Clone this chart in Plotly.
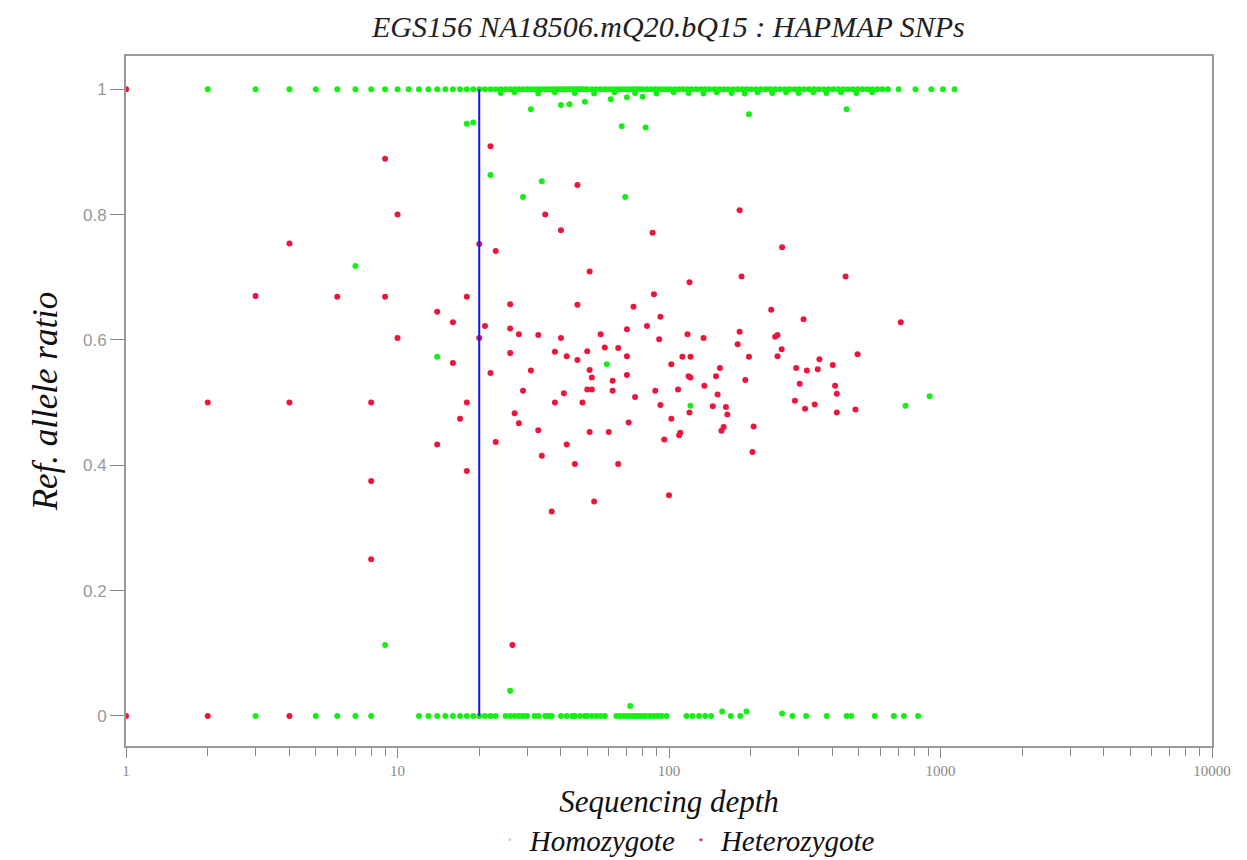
import plotly.graph_objects as go

# ---------------- data ----------------
title_text = "EGS156 NA18506.mQ20.bQ15 : HAPMAP SNPs"
x_title = "Sequencing depth"
y_title = "Ref. allele ratio"
depth_cutoff = 20

# Homozygote SNPs: ratio 1 band
hom_top_depth = [1, 2, 3, 4, 5, 6, 7, 8, 9, 10, 11, 12, 13, 14, 15, 16, 17, 18, 19,
                 20, 21, 22, 23, 24, 25, 26, 27, 28, 29, 30, 31, 32, 33, 34, 35, 36, 37, 38, 39,
                 40, 41, 42, 43, 44, 45, 46, 47, 48, 49, 50, 52, 54, 56, 58, 60, 62, 64, 66, 68,
                 70, 72, 74, 76, 78, 80, 83, 86, 89, 92, 95, 98, 101, 105, 109, 113, 117, 121,
                 126, 131, 136, 141, 147, 153, 159, 165, 172, 179, 186, 193, 201, 209, 218, 227,
                 236, 246, 256, 267, 278, 290, 302, 315, 328, 342, 356, 371, 387, 403, 420, 438,
                 456, 475, 495, 516, 538, 561, 585, 610, 640, 701, 809, 925, 1021, 1127]
hom_top_ratio = [1.0] * len(hom_top_depth)

# Homozygote SNPs slightly below 1 (thickening the top band)
hom_band_depth = [24, 27, 33, 38, 45, 53, 63, 75, 90, 104, 118, 134, 150, 170, 190, 212,
                  240, 270, 300, 340, 380, 430, 490, 560]
hom_band_ratio = [0.994, 0.995, 0.993, 0.995, 0.994, 0.993, 0.995, 0.994, 0.993, 0.995,
                  0.994, 0.993, 0.995, 0.994, 0.993, 0.995, 0.994, 0.995, 0.994, 0.995,
                  0.994, 0.995, 0.994, 0.995]

# Homozygote SNPs: ratio 0 band
hom_bot_depth = [3, 5, 6, 7, 8, 12, 13, 14, 15, 16, 17, 18, 19, 20, 21, 22, 23, 25, 26, 27,
                 28, 29, 30, 32, 33, 35, 36, 37, 40, 42, 44, 45, 47, 49, 50, 52, 54, 56, 58,
                 64, 66, 68, 70, 72, 74, 76, 78, 80, 82, 85, 88, 91, 94, 98, 116, 122, 129,
                 136, 143, 169, 183, 285, 320, 381, 451, 469, 573, 673, 733, 827]
hom_bot_ratio = [0.0] * len(hom_bot_depth)

# Homozygote SNPs off the bands
hom_mid_depth = [7, 14, 59, 743, 912, 120, 9, 26, 18, 19, 22, 31, 34, 29, 40, 43, 49, 61,
                 70, 80, 67, 82, 197, 451, 69, 72, 157, 193, 261]
hom_mid_ratio = [0.718, 0.573, 0.561, 0.495, 0.51, 0.495, 0.113, 0.04, 0.945, 0.947, 0.863,
                 0.968, 0.853, 0.828, 0.975, 0.976, 0.98, 0.984, 0.987, 0.988, 0.941, 0.939,
                 0.96, 0.968, 0.828, 0.016, 0.007, 0.007, 0.004]

# Heterozygote SNPs
het_depth = [1, 2, 4, 1, 2, 4, 8, 8, 8, 26.5, 9, 10, 4, 3, 6, 9, 10, 18, 14, 16, 20, 16, 18,
             17, 14, 18, 22, 20, 23, 35, 46, 40, 87, 182, 261,
             51, 26, 46, 74, 21, 26, 28, 33, 40, 56, 70, 83, 26, 38, 42, 46, 50, 58, 65, 70,
             22, 31, 51, 52, 62, 70, 62, 29, 41, 50, 52, 75, 38, 48, 27, 28, 33, 51, 60, 71,
             42, 23, 34, 45, 65, 53, 37,
             119, 185, 447, 88, 93, 92, 117, 134, 238, 313, 714, 182, 246, 251, 179, 260, 251,
             197, 112, 120, 102, 154, 118, 120, 149, 191, 294, 322, 353, 358, 401, 495, 303,
             409, 415, 135, 108, 89, 151, 291, 344, 317, 415, 486, 93, 119, 145, 162, 164, 102,
             205, 159, 156, 110, 109, 96, 203, 100]
het_ratio = [0.0, 0.0, 0.0, 1.0, 0.5, 0.5, 0.5, 0.375, 0.25, 0.113, 0.889, 0.80, 0.754, 0.67,
             0.669, 0.669, 0.603, 0.669, 0.645, 0.628, 0.603, 0.563, 0.5, 0.474, 0.433, 0.391,
             0.909, 0.753, 0.742, 0.80, 0.847, 0.775, 0.771, 0.807, 0.748,
             0.709, 0.657, 0.656, 0.653, 0.622, 0.618, 0.609, 0.608, 0.603, 0.609, 0.617, 0.622,
             0.579, 0.581, 0.574, 0.568, 0.582, 0.588, 0.587, 0.574, 0.547, 0.551, 0.552, 0.540,
             0.535, 0.544, 0.519, 0.519, 0.515, 0.521, 0.521, 0.509, 0.5, 0.5, 0.483, 0.467,
             0.456, 0.453, 0.453, 0.468, 0.433, 0.437, 0.415, 0.402, 0.402, 0.342, 0.326,
             0.692, 0.701, 0.701, 0.673, 0.637, 0.601, 0.609, 0.603, 0.648, 0.633, 0.628, 0.613,
             0.605, 0.608, 0.593, 0.585, 0.574, 0.573, 0.573, 0.573, 0.561, 0.555, 0.542, 0.540,
             0.542, 0.536, 0.555, 0.551, 0.553, 0.569, 0.560, 0.577, 0.530, 0.527, 0.514, 0.527,
             0.521, 0.519, 0.513, 0.503, 0.497, 0.490, 0.484, 0.489, 0.496, 0.484, 0.494, 0.493,
             0.481, 0.474, 0.462, 0.461, 0.455, 0.452, 0.448, 0.441, 0.421, 0.352]

x_tick_vals = [1, 10, 100, 1000, 10000]
x_tick_text = ["1", "10", "100", "1000", "10000"]
y_tick_vals = [0, 0.2, 0.4, 0.6, 0.8, 1]
y_tick_text = ["0", "0.2", "0.4", "0.6", "0.8", "1"]

GREEN = "rgb(20,240,20)"
RED = "rgb(240,20,60)"
SERIF = "Liberation Serif"

fig = go.Figure()

hom_x = hom_top_depth + hom_band_depth + hom_bot_depth + hom_mid_depth
hom_y = hom_top_ratio + hom_band_ratio + hom_bot_ratio + hom_mid_ratio
fig.add_trace(go.Scatter(x=hom_x, y=hom_y, mode="markers", showlegend=False,
                         marker=dict(color=GREEN, size=6, symbol="circle", line=dict(width=0)),
                         hoverinfo="x+y"))
fig.add_trace(go.Scatter(x=het_depth, y=het_ratio, mode="markers", showlegend=False,
                         marker=dict(color=RED, size=6, symbol="circle", line=dict(width=0)),
                         hoverinfo="x+y"))
fig.add_trace(go.Scatter(x=[depth_cutoff, depth_cutoff], y=[0, 1], mode="lines",
                         line=dict(color="rgb(20,20,255)", width=2), showlegend=False,
                         hoverinfo="skip"))

# legend entries
fig.add_trace(go.Scatter(x=[None], y=[None], mode="markers", name="<i>Homozygote</i>",
                         marker=dict(color="rgb(170,235,170)", size=3)))
fig.add_trace(go.Scatter(x=[None], y=[None], mode="markers", name="<i>Heterozygote</i>",
                         marker=dict(color=RED, size=3)))

fig.update_layout(
    width=1247, height=860,
    margin=dict(l=126, r=35, t=56, b=114, autoexpand=False),
    paper_bgcolor="white", plot_bgcolor="white",
    title=dict(text="<i>" + title_text + "</i>", x=0.536, xanchor="center", y=0.969,
               yanchor="middle", font=dict(family=SERIF, size=30, color="#222")),
    legend=dict(orientation="h", x=0.515, xanchor="center", y=-0.136, yanchor="middle",
                font=dict(family=SERIF, size=29, color="#111"), itemwidth=30,
                bgcolor="rgba(0,0,0,0)"),
    showlegend=True,
)

fig.update_xaxes(type="log", range=[0, 4], tickvals=x_tick_vals, ticktext=x_tick_text,
                 ticks="outside", ticklen=10, tickcolor="#888", tickwidth=1,
                 tickfont=dict(family=SERIF, size=15, color="#888"),
                 showline=True, linecolor="#999", linewidth=2, mirror=True,
                 showgrid=False, zeroline=False,
                 minor=dict(ticks="outside", ticklen=8, tickcolor="#888", dtick="D1", showgrid=False),
                 title=dict(text="<i>" + x_title + "</i>",
                            font=dict(family=SERIF, size=31, color="#111"), standoff=12))
fig.update_yaxes(range=[-0.048, 1.053], tickvals=y_tick_vals, ticktext=y_tick_text,
                 ticks="outside", ticklen=14, tickcolor="#888", tickwidth=1,
                 tickfont=dict(family="Liberation Sans", size=17, color="#999"),
                 showline=True, linecolor="#999", linewidth=2, mirror=True,
                 showgrid=False, zeroline=False,
                 title=dict(text="<i>" + y_title + "</i>",
                            font=dict(family=SERIF, size=35, color="#111"), standoff=15))

fig.write_html("out.html")
